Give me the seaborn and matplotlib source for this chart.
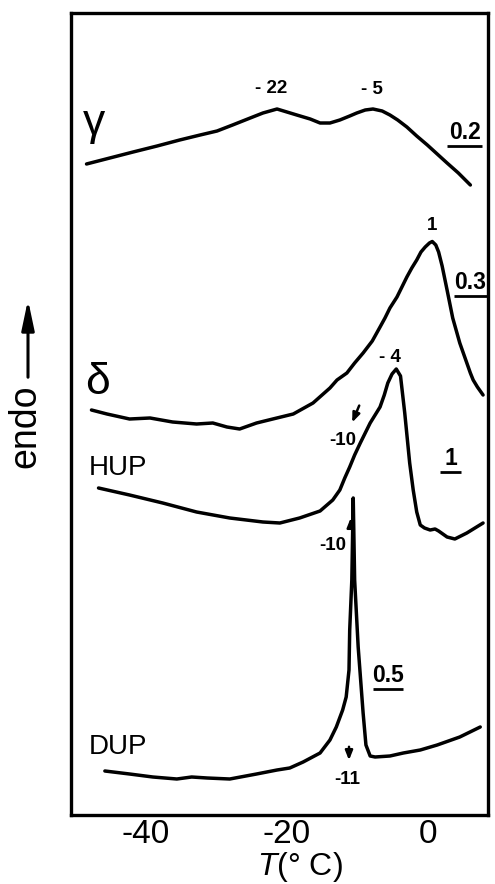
import matplotlib
matplotlib.use("Agg")
import matplotlib.pyplot as plt
from matplotlib.patches import FancyArrowPatch
from matplotlib.ticker import FixedLocator
import seaborn as sns
import pandas as pd

# DSC heating traces (temperature in deg C, heat flow in arbitrary offset units)
gamma_T = [-48.4, -45.1, -41.8, -38.4, -35.2, -32.3, -29.9, -27.7, -25.2, -23.4,
           -21.4, -18.6, -16.7, -15.3, -13.9, -12.5, -11.1, -10.1, -8.9, -7.8,
           -6.5, -5.4, -4.3, -3.0, -1.6, -0.1, 1.3, 2.7, 4.3, 6.0]
gamma_y = [65.1, 65.7, 66.3, 66.9, 67.5, 68.0, 68.4, 69.0, 69.7, 70.2,
           70.6, 70.0, 69.6, 69.2, 69.2, 69.5, 69.9, 70.2, 70.5, 70.6,
           70.4, 70.0, 69.5, 68.8, 67.9, 67.0, 66.1, 65.2, 64.2, 63.0]

delta_T = [-47.7, -45.5, -42.3, -39.4, -36.2, -32.8, -30.5, -28.5, -26.7, -24.3,
           -22.0, -19.1, -16.3, -13.9, -12.9, -11.5, -10.4, -9.2, -7.9, -6.8,
           -6.1, -5.4, -4.4, -3.7, -3.0, -2.3, -1.6, -1.0, -0.4, 0.2,
           0.6, 1.1, 1.5, 2.0, 2.7, 3.5, 4.1, 4.5, 5.0, 5.4,
           6.0, 6.4, 7.0, 7.4, 7.8]
delta_y = [40.5, 40.1, 39.6, 39.7, 39.3, 39.1, 39.2, 38.8, 38.6, 39.2,
           39.6, 40.1, 41.2, 42.7, 43.5, 44.2, 45.2, 46.2, 47.4, 48.8,
           49.7, 50.7, 51.8, 52.8, 53.8, 54.7, 55.5, 56.3, 56.8, 57.2,
           57.35, 57.0, 56.3, 54.9, 52.5, 49.7, 48.2, 47.2, 46.2, 45.4,
           44.2, 43.5, 42.8, 42.4, 42.0]

hup_T = [-46.7, -42.3, -37.6, -32.8, -28.1, -23.4, -21.0, -18.2, -15.3, -13.5,
         -12.5, -11.8, -11.1, -10.4, -9.6, -8.9, -8.2, -7.5, -6.8, -6.2,
         -5.7, -5.1, -4.5, -3.9, -3.3, -2.6, -2.1, -1.6, -1.1, -0.5,
         0.3, 1.0, 1.5, 2.7, 3.8, 5.5, 7.8]
hup_y = [32.7, 32.0, 31.2, 30.3, 29.7, 29.3, 29.2, 29.7, 30.4, 31.5,
         32.5, 33.7, 34.8, 36.0, 37.2, 38.2, 39.2, 40.0, 40.8, 42.0,
         43.2, 44.1, 44.6, 43.9, 40.2, 35.2, 32.5, 30.3, 29.0, 28.7,
         28.5, 28.6, 28.4, 27.8, 27.6, 28.2, 29.2]

dup_T = [-45.8, -42.3, -39.0, -35.6, -33.5, -31.3, -28.1, -24.3, -21.4, -19.6,
         -17.7, -15.3, -13.9, -13.0, -12.1, -11.6, -11.2, -11.1, -10.8, -10.6,
         -10.4, -9.9, -9.2, -8.8, -8.2, -7.5, -5.4, -3.5, -1.1, 1.3,
         4.5, 7.4]
dup_y = [4.4, 4.1, 3.8, 3.6, 3.8, 3.7, 3.6, 4.1, 4.5, 4.7,
         5.3, 6.2, 7.5, 8.8, 10.5, 11.8, 14.5, 18.5, 23.5, 31.7,
         23.5, 16.8, 10.2, 7.0, 5.9, 5.8, 5.9, 6.2, 6.5, 7.0,
         7.8, 8.8]

# Curve names and where they are written (centre positions)
names = ["γ", "δ", "HUP", "DUP"]
name_T = [-47.4, -46.8, -44.0, -44.0]
name_y = [69.2, 43.3, 34.7, 6.8]
name_size = [32, 32, 20, 20]

# Peak temperature labels
peak_text = ["- 22", "- 5", "1", "- 4"]
peak_T = [-22.3, -7.9, 0.6, -5.4]
peak_y = [72.7, 72.6, 59.0, 45.8]

# Onset labels with arrows
onset_text = ["-10", "-10", "-11"]
onset_T = [-12.1, -13.5, -11.5]
onset_y = [37.5, 27.0, 3.6]

# Sensitivity scale labels (underlined)
scale_text = ["0.2", "0.3", "1", "0.5"]
scale_T = [5.2, 6.0, 3.2, -5.7]
scale_y = [68.3, 53.3, 35.7, 14.0]
scale_half = [2.5, 2.35, 1.5, 2.15]

x_ticks = [-40, -20, 0]
x_minor = [-30, -10]

frames = []
for label, T, y in [("gamma", gamma_T, gamma_y), ("delta", delta_T, delta_y),
                    ("HUP", hup_T, hup_y), ("DUP", dup_T, dup_y)]:
    frames.append(pd.DataFrame({"T": T, "signal": y, "sample": label}))
df = pd.concat(frames, ignore_index=True)

sns.set_style("white")
plt.rcParams["font.family"] = ["Liberation Sans", "DejaVu Sans"]
plt.rcParams["axes.unicode_minus"] = False
plt.rcParams["mathtext.fontset"] = "custom"
plt.rcParams["mathtext.it"] = "Liberation Sans:italic"
plt.rcParams["mathtext.rm"] = "Liberation Sans"
plt.rcParams["lines.solid_joinstyle"] = "round"
plt.rcParams["lines.solid_capstyle"] = "round"
plt.rcParams["text.color"] = "black"
plt.rcParams["axes.labelcolor"] = "black"
plt.rcParams["xtick.color"] = "black"

fig = plt.figure(figsize=(4.95, 8.84), dpi=100)
ax = fig.add_axes([71 / 495, 1 - 815 / 884, (488 - 71) / 495, (815 - 13) / 884])

sns.lineplot(data=df, x="T", y="signal", units="sample", estimator=None,
             sort=False, color="black", linewidth=2.5, ax=ax, legend=False)

ax.set_xlim(-50.6, 8.5)
ax.set_ylim(0, 80.2)
ax.set_yticks([])
ax.set_ylabel("")
ax.set_xticks(x_ticks)
ax.set_xticklabels([str(v) for v in x_ticks])
ax.xaxis.set_minor_locator(FixedLocator(x_minor))
ax.tick_params(axis="x", which="major", direction="in", length=18, width=2.2,
               labelsize=24, pad=3, colors="black")
ax.tick_params(axis="x", which="minor", direction="in", length=8, width=2.2,
               colors="black")
for s in ax.spines.values():
    s.set_linewidth(2.4)
    s.set_color("black")
ax.set_xlabel(r"$\mathit{T}$(° C)", fontsize=23, labelpad=0, x=0.55,
              color="black")

for t, x, y, fs in zip(names, name_T, name_y, name_size):
    ax.text(x, y, t, fontsize=fs, ha="center", va="center", color="black")

for t, x, y in zip(peak_text, peak_T, peak_y):
    ax.text(x, y, t, fontsize=13.5, fontweight="bold", ha="center", va="center",
            color="black")

for t, x, y in zip(onset_text, onset_T, onset_y):
    ax.text(x, y, t, fontsize=13.5, fontweight="bold", ha="center", va="center",
            color="black")

# onset arrows
arrow_kw = dict(arrowstyle="-|>,head_length=0.55,head_width=0.22", lw=1.8,
                color="black")
ax.annotate("", xy=(-10.9, 39.0), xytext=(-9.6, 41.2), arrowprops=arrow_kw)
ax.annotate("", xy=(-10.95, 30.0), xytext=(-10.95, 28.4), arrowprops=arrow_kw)
ax.annotate("", xy=(-11.2, 5.2), xytext=(-11.2, 7.1), arrowprops=arrow_kw)

for t, x, y, h in zip(scale_text, scale_T, scale_y, scale_half):
    ax.text(x, y, t, fontsize=16.5, fontweight="bold", ha="center", va="center",
            color="black")
    ax.hlines(y - 1.35, x - h, x + h, color="black", linewidth=2.0)

# ordinate direction
fig.text(25 / 495, 1 - 426 / 884, "endo", rotation=90, fontsize=27,
         ha="center", va="center", color="black")
fig.patches.append(FancyArrowPatch(
    (28 / 495, 1 - 380 / 884), (28 / 495, 1 - 297 / 884),
    transform=fig.transFigure, arrowstyle="-|>,head_length=18,head_width=3.8",
    lw=2.2, color="black", mutation_scale=1))

fig.savefig("out.png", dpi=100)
